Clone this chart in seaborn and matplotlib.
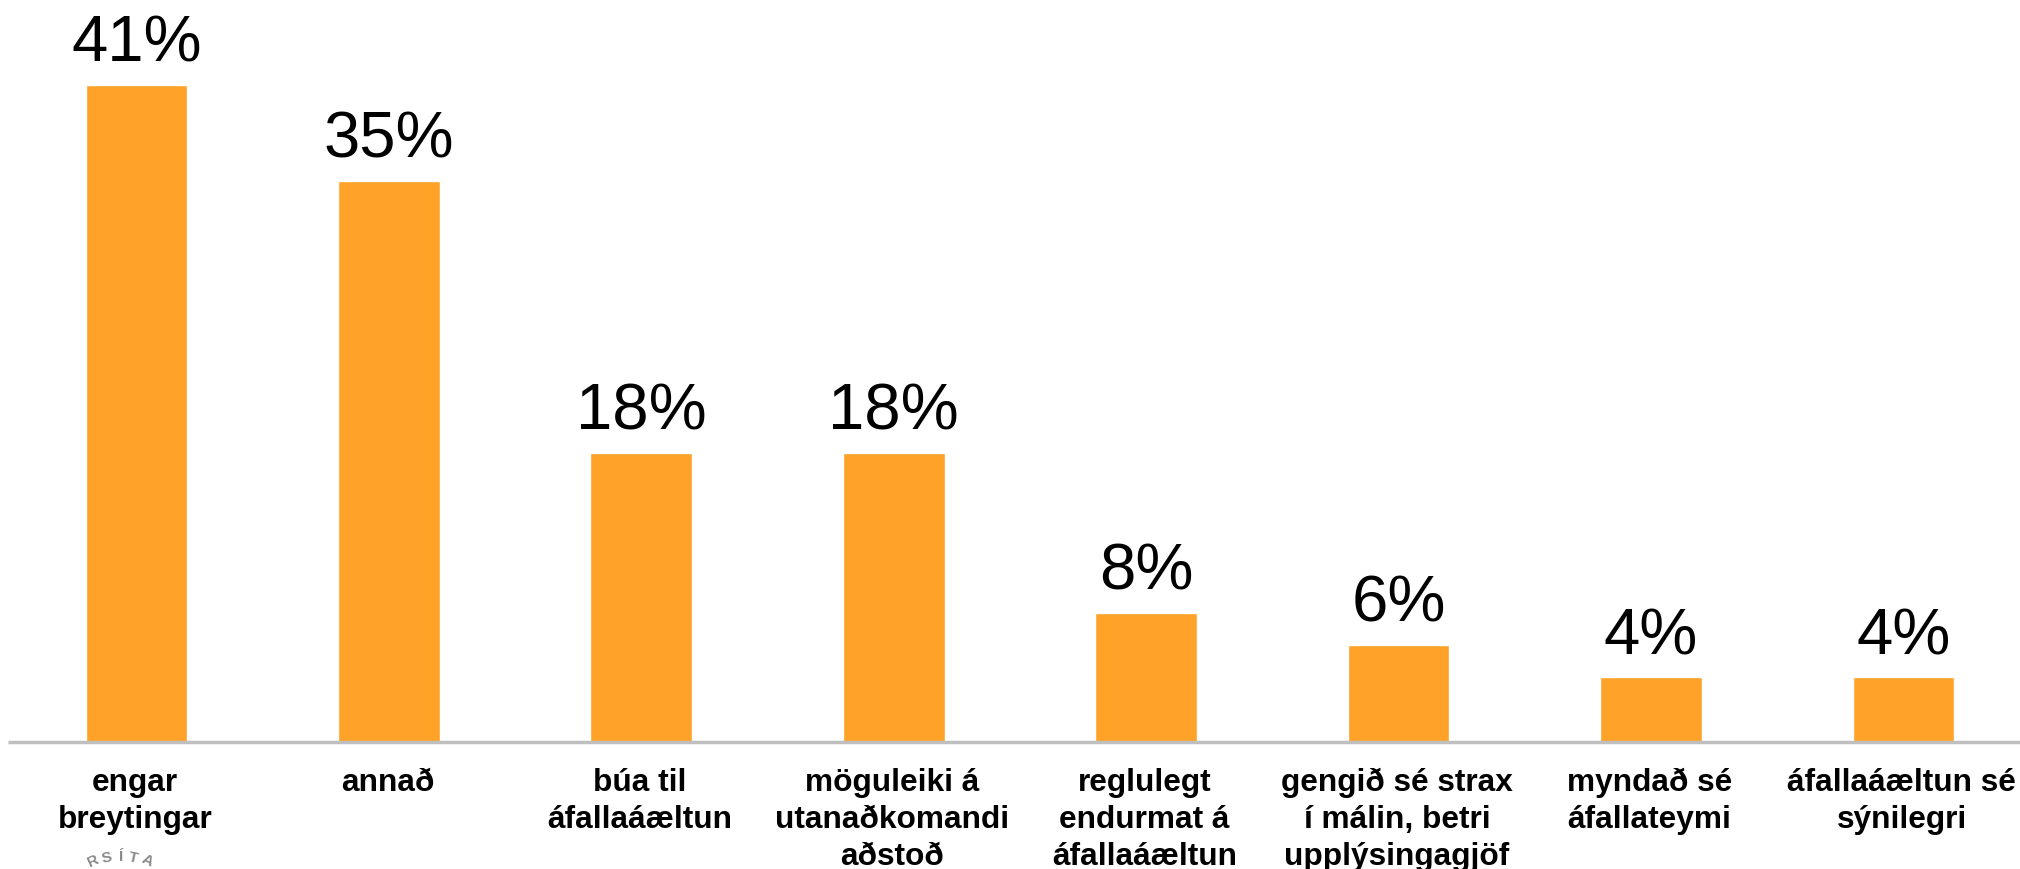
import pandas as pd
import matplotlib
matplotlib.use("Agg")
import matplotlib.pyplot as plt
import matplotlib.transforms as mtrans
import seaborn as sns

categories = ["engar\nbreytingar", "annað", "búa til\náfallaáæltun",
              "möguleiki á\nutanaðkomandi\naðstoð", "reglulegt\nendurmat á\náfallaáæltun",
              "gengið sé strax\ní málin, betri\nupplýsingagjöf", "myndað sé\náfallateymi",
              "áfallaáæltun sé\nsýnilegri"]
values = [41, 35, 18, 18, 8, 6, 4, 4]
seal_letters = ["R", "S", "Í", "T", "A"]

sns.set_theme(style="white")
plt.rcParams['font.family'] = ['Liberation Sans', 'DejaVu Sans']

df = pd.DataFrame({"category": categories, "percent": values})

W, H = 2020, 869
fig = plt.figure(figsize=(W / 100, H / 100), dpi=100)
ax = fig.add_axes([8 / W, (H - 741.5) / H, (W - 8) / W, 741.5 / H])

sns.barplot(data=df, x="category", y="percent", color="#FFA227", saturation=1,
            width=0.403, ax=ax)

ax.set_xlim(-0.509, 7.462)
ax.set_ylim(0, 46.3)
ax.set_xlabel("")
ax.set_ylabel("")
ax.set_yticks([])
ax.tick_params(axis="x", length=0, pad=19)
# labels sit a little left of the bars in the original
shift = mtrans.ScaledTranslation(-1.5 / 100, 0, fig.dpi_scale_trans)
for lab in ax.get_xticklabels():
    lab.set_fontsize(22.8)
    lab.set_fontweight("bold")
    lab.set_color("black")
    lab.set_linespacing(1.3)
    lab.set_transform(lab.get_transform() + shift)

sns.despine(ax=ax, left=True, top=True, right=True)
ax.spines["bottom"].set_color("#BFBFBF")
ax.spines["bottom"].set_linewidth(2.5)
ax.spines["bottom"].set_capstyle("butt")

for c in ax.containers:
    ax.bar_label(c, labels=[f"{v}%" for v in values], fontsize=47, color="black", padding=7.5)

# top of the seal, mostly cut off by the bottom edge
for letter, x, y, rot in zip(seal_letters, [93, 107, 120, 133, 147], [861, 858, 857, 858, 861],
                             [25, 12, 0, -12, -25]):
    fig.text(x / W, 1 - y / H, letter, fontsize=11, fontweight="bold", color="#8a8a8a",
             ha="center", va="center", rotation=rot)

fig.savefig("out.png", dpi=100)
